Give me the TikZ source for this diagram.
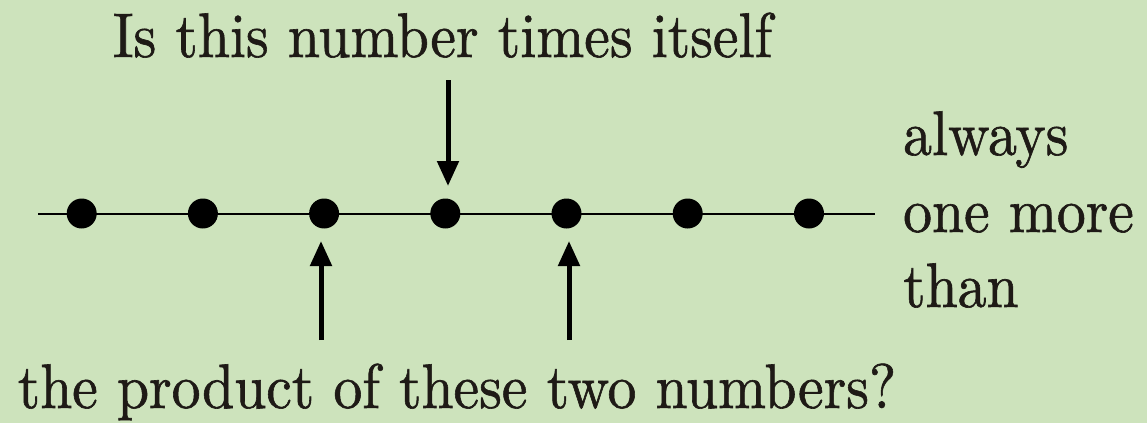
\documentclass[tikz,border=0pt]{standalone}
\usepackage{fontspec}
\newfontfamily\lmx{lmroman10-regular.otf}[FakeBold=1]
\usetikzlibrary{arrows.meta}
\definecolor{bg}{RGB}{205,227,188}
\definecolor{ink}{RGB}{30,26,22}
\newcommand{\sq}[1]{\scalebox{0.915}[1]{#1}}
\begin{document}
\begin{tikzpicture}[x=1pt,y=-1pt,
  lbl/.style={inner sep=0pt,text=ink,font=\lmx\fontsize{63}{76}\selectfont},
  dotnode/.style={circle,fill=black,minimum size=30pt,inner sep=0pt},
  axis/.style={line width=2pt,black},
  arr/.style={line width=5pt,black,-{Triangle[width=21pt,length=25pt]}}]
\fill[bg] (0,0) rectangle (1147,423);
\useasboundingbox (0,0) rectangle (1147,423);
% axis
\coordinate (l0) at (38,213.5);
\coordinate (l1) at (875,213.5);
\draw[axis] (l0) -- (l1);
\foreach \i/\x in {1/81.7,2/202.9,3/324.1,4/445.3,5/566.5,6/687.7,7/809}{
  \node[dotnode] (d\i) at (\x,213.5) {};
}
% labels
\node[lbl,anchor=base] (top) at (442.5,57) {\sq{Is this number times itself}};
\node[lbl,anchor=base] (bottom) at (457,408) {\sq{the product of these two numbers?}};
\node[lbl,anchor=base west] (r1) at (903,155) {\sq{always}};
\node[lbl,anchor=base west] (r2) at (903,232) {\sq{one more}};
\node[lbl,anchor=base west] (r3) at (903,307) {\sq{than}};
% arrows
\coordinate (a1s) at (448,80);
\coordinate (a1e) at (448,186);
\coordinate (a2s) at (321,340);
\coordinate (a2e) at (321,241);
\coordinate (a3s) at (569,340);
\coordinate (a3e) at (569,241);
\draw[arr] (a1s) -- (a1e);
\draw[arr] (a2s) -- (a2e);
\draw[arr] (a3s) -- (a3e);
\end{tikzpicture}
\end{document}
